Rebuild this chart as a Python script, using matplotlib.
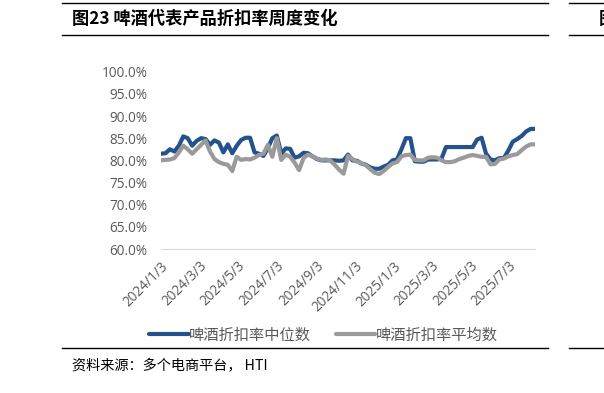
import pandas as pd
import matplotlib.pyplot as plt
from matplotlib.lines import Line2D
from matplotlib.ticker import FuncFormatter

plt.rcParams['font.family'] = ['Noto Sans CJK SC', 'DejaVu Sans']

# weekly beer discount rate, %
dates = pd.date_range('2024-01-03', periods=85, freq='7D')
median = [81.5, 81.6, 82.5, 82.0, 83.3, 85.4, 85.0, 83.3, 84.4, 85.0,
          84.8, 83.5, 84.5, 84.0, 81.8, 83.6, 81.6, 83.3, 84.6, 85.1,
          85.1, 81.8, 81.5, 81.0, 82.8, 85.0, 85.6, 81.5, 82.7, 82.6,
          80.6, 80.9, 81.7, 81.6, 80.9, 80.3, 80.0, 80.0, 80.0, 80.0,
          79.9, 80.0, 81.3, 80.0, 79.9, 79.3, 79.0, 78.4, 78.1, 78.1,
          78.6, 79.0, 80.0, 80.2, 82.5, 85.0, 85.0, 79.8, 79.7, 79.7,
          80.2, 80.2, 80.2, 80.4, 83.0, 83.0, 83.0, 83.0, 83.0, 83.0,
          83.0, 84.7, 85.1, 81.5, 80.2, 80.0, 80.5, 80.5, 82.2, 84.2,
          84.8, 85.5, 86.5, 87.1, 87.1]
mean = [80.0, 80.1, 80.2, 80.5, 81.8, 83.3, 82.5, 81.5, 82.5, 83.5,
        84.5, 82.0, 80.3, 79.6, 79.2, 79.0, 77.6, 80.8, 80.1, 80.3,
        80.2, 80.6, 81.2, 81.5, 83.5, 80.8, 85.0, 80.1, 81.3, 80.8,
        79.5, 77.8, 80.5, 81.3, 80.9, 80.4, 80.1, 80.2, 80.0, 79.0,
        77.9, 77.0, 81.0, 80.3, 79.7, 79.4, 78.9, 78.0, 77.2, 76.9,
        77.6, 78.5, 79.3, 79.6, 80.9, 81.2, 81.3, 80.1, 80.0, 80.0,
        80.6, 80.7, 80.6, 80.0, 79.6, 79.6, 79.8, 80.3, 80.6, 81.0,
        81.2, 81.0, 80.8, 80.8, 79.1, 79.2, 80.2, 80.4, 80.9, 81.2,
        81.4, 82.3, 83.1, 83.6, 83.6]
tick_dates = pd.to_datetime(['2024-01-03', '2024-03-03', '2024-05-03', '2024-07-03',
                             '2024-09-03', '2024-11-03', '2025-01-03', '2025-03-03',
                             '2025-05-03', '2025-07-03'])

BLUE = '#24528C'
GREY = '#9A9A9A'
TXT = '#595959'

fig = plt.figure(figsize=(6.04, 3.93), dpi=100)
ax = fig.add_axes([0.2666, 0.3664, 0.6192, 0.4512])

ax.plot(dates, median, color=BLUE, lw=3.0, label='啤酒折扣率中位数', solid_capstyle='round')
ax.plot(dates, mean, color=GREY, lw=3.0, label='啤酒折扣率平均数', solid_capstyle='round')

ax.set_ylim(60, 100)
ax.set_yticks(range(60, 101, 5))
ax.yaxis.set_major_formatter(FuncFormatter(lambda v, p: f'{v:.1f}%'))
ax.set_xlim(dates[0], dates[-1])
ax.set_xticks(tick_dates)
ax.set_xticklabels([f'{d.year}/{d.month}/{d.day}' for d in tick_dates],
                   rotation=45, ha='right', rotation_mode='anchor')

for s in ['top', 'right', 'left']:
    ax.spines[s].set_visible(False)
ax.spines['bottom'].set_color('#D9D9D9')
ax.tick_params(length=0, colors=TXT, labelsize=9.8)
ax.tick_params(axis='y', pad=10)
ax.tick_params(axis='x', pad=7)
for lab in ax.get_yticklabels() + ax.get_xticklabels():
    lab.set_family(['Open Sans', 'DejaVu Sans'])

fig.legend(loc='center', bbox_to_anchor=(0.5356, 0.148), ncol=2, frameon=False,
           fontsize=11, handlelength=2.6, handletextpad=0.05, columnspacing=1.6,
           labelcolor=TXT)

# frame lines of the report page
for y in [3, 35, 348]:
    yf = 1 - y / 393
    fig.add_artist(Line2D([62 / 604, 548 / 604], [yf, yf], color='black', lw=1.0))
    fig.add_artist(Line2D([569 / 604, 1.0], [yf, yf], color='black', lw=1.0))

fig.text(72 / 604, 1 - 19 / 393, '图23 啤酒代表产品折扣率周度变化', fontsize=12.4,
         fontweight='bold', va='center', ha='left')
fig.text(599 / 604, 1 - 19 / 393, '图', fontsize=12.4, fontweight='bold', va='center', ha='left')
fig.text(72 / 604, 1 - 366 / 393, '资料来源：多个电商平台， HTI', fontsize=10.2, va='center', ha='left')

fig.savefig('out.png', dpi=100)
